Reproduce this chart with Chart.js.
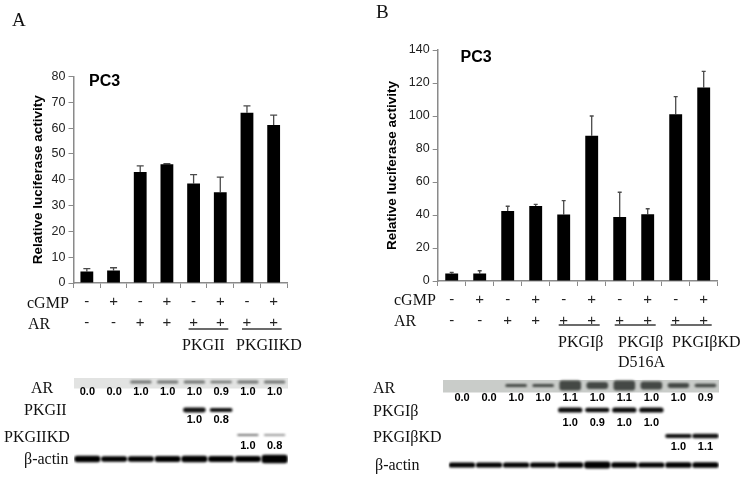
<!DOCTYPE html>
<html>
<head>
<meta charset="utf-8">
<title>PC3 luciferase activity</title>
<script src="https://cdn.jsdelivr.net/npm/chart.js@4"></script>
<style>
  html, body { margin: 0; background: #fff; }
  #page { position: relative; width: 743px; height: 478px; overflow: hidden; filter: blur(0.35px); }
  #page canvas { position: absolute; }
  .lbl { position: absolute; white-space: nowrap; transform: translateY(-50%); color: #111; line-height: 1; }
  .serif { font: 16px "Liberation Serif", serif; }
  .panel { font: 19px "Liberation Serif", serif; }
  .pc3 { font: bold 16px "Liberation Sans", sans-serif; color: #000; }
</style>
</head>
<body>
<div id="page">
  <canvas id="barsA" width="370" height="365" style="left:0;top:0"></canvas>
  <canvas id="barsB" width="373" height="365" style="left:370px;top:0"></canvas>
  <canvas id="blotA" width="214" height="106" style="left:74px;top:370px"></canvas>
  <canvas id="blotB" width="276" height="106" style="left:443px;top:370px"></canvas>
</div>

<script>
'use strict';

/* ---------- panel A values ---------- */
const cgmpA = ['-', '+', '-', '+', '-', '+', '-', '+'];
const arA   = ['-', '-', '+', '+', '+', '+', '+', '+'];
const meanA = [4.5, 4.8, 43, 46, 38.5, 35.2, 66, 61.2];
const topA  = [5.6, 5.9, 45.4, 46.2, 42, 41, 68.6, 65];
const tickStepA = 10;
const yMaxA = 80;

/* ---------- panel B values ---------- */
const cgmpB = ['-', '+', '-', '+', '-', '+', '-', '+', '-', '+'];
const arB   = ['-', '-', '+', '+', '+', '+', '+', '+', '+', '+'];
const meanB = [4.5, 4.6, 42.5, 45.5, 40.3, 88, 38.8, 40.5, 101, 117.2];
const topB  = [5.2, 6.2, 45.3, 46.4, 48.7, 100, 53.8, 43.8, 111.7, 127];
const tickStepB = 20;
const yMaxB = 140;

/* ---------- blot densitometry, null = no band ---------- */
const arLevelA    = [0.0, 0.0, 1.0, 1.0, 1.0, 0.9, 1.0, 1.0];
const pkgLevelA   = [null, null, null, null, 1.0, 0.8, null, null];
const kdLevelA    = [null, null, null, null, null, null, 1.0, 0.8];
const actinBandA  = [1.2, 1.0, 1.0, 1.1, 1.2, 1.1, 1.1, 1.5];

const arLevelB    = [0.0, 0.0, 1.0, 1.0, 1.1, 1.0, 1.1, 1.0, 1.0, 0.9];
const arBandB     = [0, 0, 0.7, 0.7, 2.3, 1.6, 2.3, 1.8, 1.1, 0.8];
const pkgLevelB   = [null, null, null, null, 1.0, 0.9, 1.0, 1.0, null, null];
const kdLevelB    = [null, null, null, null, null, null, null, null, 1.0, 1.1];
const actinBandB  = [1.0, 1.0, 1.0, 1.0, 1.1, 1.3, 1.1, 1.0, 1.1, 1.1];

const SANS = '"Liberation Sans", Arial, sans-serif';
const AXIS_COLOR = '#8a8a8a';

Chart.defaults.animation = false;
Chart.defaults.responsive = false;
Chart.defaults.plugins.legend.display = false;
Chart.defaults.plugins.tooltip.enabled = false;

function addLabel(text, x, y, cls) {
  const el = document.createElement('span');
  el.className = 'lbl ' + cls;
  el.textContent = text;
  el.style.left = x + 'px';
  el.style.top = y + 'px';
  document.getElementById('page').appendChild(el);
}

// upper error whisker for each bar
const whiskers = {
  id: 'whiskers',
  beforeDatasetsDraw(chart, _, opts) {
    const { ctx, scales: { x, y } } = chart;
    ctx.save();
    ctx.strokeStyle = '#4a4a4a';
    ctx.lineWidth = 1.3;
    opts.tops.forEach((v, i) => {
      const px = x.getPixelForValue(i);
      ctx.beginPath();
      ctx.moveTo(px, y.getPixelForValue(chart.data.datasets[0].data[i]));
      ctx.lineTo(px, y.getPixelForValue(v));
      ctx.moveTo(px - opts.cap, y.getPixelForValue(v));
      ctx.lineTo(px + opts.cap, y.getPixelForValue(v));
      ctx.stroke();
    });
    ctx.restore();
  }
};

// underline joining the lanes of one construct
const groupLines = {
  id: 'groupLines',
  afterDraw(chart, _, opts) {
    const { ctx, scales: { x } } = chart;
    ctx.save();
    ctx.strokeStyle = '#3a3a3a';
    ctx.lineWidth = 1.4;
    opts.spans.forEach(([a, b]) => {
      ctx.beginPath();
      ctx.moveTo(x.getPixelForValue(a) - 5, opts.y);
      ctx.lineTo(x.getPixelForValue(b) + 8, opts.y);
      ctx.stroke();
    });
    ctx.restore();
  }
};

function barChart(id, cfg) {
  return new Chart(document.getElementById(id), {
    type: 'bar',
    data: {
      labels: cfg.cgmp.map((c, i) => [c, cfg.ar[i]]),
      datasets: [{
        data: cfg.mean,
        backgroundColor: '#000',
        barPercentage: cfg.barPct,
        categoryPercentage: 1
      }]
    },
    options: {
      layout: { padding: { top: cfg.top, right: cfg.right, bottom: cfg.bottom, left: 0 } },
      plugins: {
        whiskers: { tops: cfg.tops, cap: cfg.cap },
        groupLines: { spans: cfg.spans, y: cfg.lineY }
      },
      scales: {
        x: {
          afterFit(s) { s.height = 60; },
          border: { color: AXIS_COLOR, width: 1.5 },
          grid: { offset: true, drawOnChartArea: false, color: AXIS_COLOR, tickLength: 5 },
          ticks: {
            autoSkip: false, maxRotation: 0, padding: cfg.tickPad, color: '#222',
            font: { family: SANS, size: 15, lineHeight: 21 / 15 }
          }
        },
        y: {
          min: 0, max: cfg.yMax,
          afterFit(s) { s.width = cfg.axisX; },
          border: { color: AXIS_COLOR, width: 1.5 },
          grid: { drawOnChartArea: false, color: AXIS_COLOR, tickLength: 5 },
          ticks: { stepSize: cfg.step, padding: 3, color: '#222', font: { family: SANS, size: 12.5 } },
          title: {
            display: true, text: 'Relative luciferase activity', color: '#000',
            padding: { top: cfg.titlePad, bottom: 0 },
            font: { family: SANS, size: 13.5, weight: 'bold' }
          }
        }
      }
    },
    plugins: [whiskers, groupLines]
  });
}

barChart('barsA', {
  cgmp: cgmpA, ar: arA, mean: meanA, tops: topA, yMax: yMaxA, step: tickStepA,
  top: 76.5, right: 83, bottom: 365 - 283 - 60, axisX: 73.5, titlePad: 30,
  barPct: 0.48, cap: 3.5, tickPad: 3, spans: [[4, 5], [6, 7]], lineY: 329
});

barChart('barsB', {
  cgmp: cgmpB, ar: arB, mean: meanB, tops: topB, yMax: yMaxB, step: tickStepB,
  top: 50, right: 373 - 347.7, bottom: 365 - 281 - 60, axisX: 67.7, titlePad: 14,
  barPct: 0.46, cap: 2, tickPad: 3, spans: [[4, 5], [6, 7], [8, 9]], lineY: 325
});

// turn band levels into floating bars around a row centre
function bands(levels, centre, half, color, pct) {
  return {
    data: levels.map(v => (v ? [centre - v * half, centre + v * half] : null)),
    backgroundColor: color,
    borderRadius: 3,
    borderSkipped: false,
    barPercentage: pct,
    categoryPercentage: 1
  };
}

// soft gel look for the bands, sharp numbers on top
const gel = {
  id: 'gel',
  beforeDatasetsDraw(chart, _, opts) {
    const { ctx, scales: { y } } = chart;
    ctx.save();
    ctx.fillStyle = opts.strip;
    ctx.fillRect(0, y.getPixelForValue(opts.stripFrom), chart.width, y.getPixelForValue(opts.stripTo) - y.getPixelForValue(opts.stripFrom));
    ctx.restore();
    ctx.filter = 'blur(0.8px)';
  },
  afterDatasetsDraw(chart, _, opts) {
    const { ctx, scales: { x, y } } = chart;
    ctx.filter = 'none';
    ctx.save();
    ctx.fillStyle = '#000';
    ctx.font = 'bold 11px ' + SANS;
    ctx.textAlign = 'center';
    ctx.textBaseline = 'middle';
    opts.rows.forEach(row => {
      row.levels.forEach((v, i) => {
        if (v === null) return;
        ctx.fillText(v.toFixed(1), x.getPixelForValue(i), y.getPixelForValue(row.y));
      });
    });
    ctx.restore();
  }
};

function blotChart(id, cfg) {
  return new Chart(document.getElementById(id), {
    type: 'bar',
    data: { labels: cfg.levels, datasets: cfg.datasets },
    options: {
      layout: { padding: { left: cfg.left, right: 0, top: 0, bottom: 0 } },
      datasets: { bar: { grouped: false } },
      plugins: {
        gel: { strip: cfg.strip, stripFrom: cfg.stripFrom, stripTo: cfg.stripTo, rows: cfg.rows }
      },
      scales: {
        x: { display: false },
        y: { display: false, reverse: true, min: 0, max: 106 }
      }
    },
    plugins: [gel]
  });
}

blotChart('blotA', {
  levels: arLevelA, left: 0, strip: '#e2e3e2', stripFrom: 8, stripTo: 18.5,
  datasets: [
    bands(arLevelA, 12, 1.5, '#6f7270', 0.8),
    bands(pkgLevelA, 40, 2.4, '#111', 0.85),
    bands(kdLevelA, 65, 1, '#777', 0.8),
    bands(actinBandA, 89, 2.8, '#000', 0.98)
  ],
  rows: [
    { levels: arLevelA, y: 22 },
    { levels: pkgLevelA, y: 50 },
    { levels: kdLevelA, y: 76 }
  ]
});

blotChart('blotB', {
  levels: arLevelB, left: 5.5, strip: '#c9ccc9', stripFrom: 10, stripTo: 22.5,
  datasets: [
    bands(arBandB, 15.5, 2.2, '#444845', 0.8),
    bands(pkgLevelB, 40, 2.6, '#0c0c0c', 0.9),
    bands(kdLevelB, 66, 2, '#111', 0.98),
    bands(actinBandB, 95, 2.6, '#000', 0.98)
  ],
  rows: [
    { levels: arLevelB, y: 28 },
    { levels: pkgLevelB, y: 53 },
    { levels: kdLevelB, y: 77 }
  ]
});

/* ---------- text around the panels ---------- */
addLabel('A', 12, 20, 'panel');
addLabel('B', 376, 12, 'panel');
addLabel('PC3', 89, 81, 'pc3');
addLabel('PC3', 460.5, 57, 'pc3');

addLabel('cGMP', 27, 303, 'serif');
addLabel('AR', 28, 324, 'serif');
addLabel('PKGII', 182, 345, 'serif');
addLabel('PKGIIKD', 236, 345, 'serif');

addLabel('cGMP', 394, 300, 'serif');
addLabel('AR', 394, 321, 'serif');
addLabel('PKGIβ', 558, 342, 'serif');
addLabel('PKGIβ', 618, 342, 'serif');
addLabel('D516A', 618, 362, 'serif');
addLabel('PKGIβKD', 672, 342, 'serif');

addLabel('AR', 31, 388, 'serif');
addLabel('PKGII', 24, 410, 'serif');
addLabel('PKGIIKD', 4, 437, 'serif');
addLabel('β-actin', 24, 459, 'serif');

addLabel('AR', 373, 388, 'serif');
addLabel('PKGIβ', 373, 411, 'serif');
addLabel('PKGIβKD', 373, 437, 'serif');
addLabel('β-actin', 375, 465, 'serif');
</script>
</body>
</html>
